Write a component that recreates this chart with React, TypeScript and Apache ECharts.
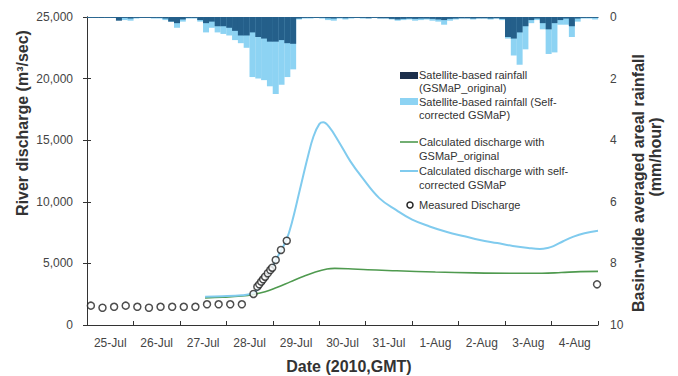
import React, { useEffect, useRef } from "react";
import * as echarts from "echarts";

// Day category labels (x axis)
const days = ["25-Jul", "26-Jul", "27-Jul", "28-Jul", "29-Jul", "30-Jul", "31-Jul", "1-Aug", "2-Aug", "3-Aug", "4-Aug"];

// 3-hourly basin rainfall (mm/hour), slot i centred on hour 3*i+1.5 from 25-Jul 00:00
const rainSelfCorrected = [
  0.03, 0.03, 0.02, 0.03, 0.03, 0.05, 0.1, 0.12,
  0.05, 0.03, 0.03, 0.05, 0.05, 0.1, 0.15, 0.35,
  0.15, 0.05, 0.05, 0.15, 0.5, 0.35, 0.5, 0.55,
  0.6, 0.75, 0.85, 1.0, 1.95, 2.0, 2.05, 2.25,
  2.5, 2.2, 1.95, 1.7, 0.08, 0.05, 0.05, 0.03,
  0.05, 0.1, 0.12, 0.05, 0.08, 0.05, 0.03, 0.05,
  0.05, 0.03, 0.05, 0.05, 0.08, 0.12, 0.1, 0.08,
  0.12, 0.1, 0.08, 0.12, 0.15, 0.25, 0.12, 0.08,
  0.05, 0.05, 0.08, 0.05, 0.05, 0.08, 0.05, 0.1,
  0.7, 1.25, 1.55, 1.05, 0.2, 0.1, 0.4, 1.2,
  1.15, 0.25, 0.25, 0.65, 0.15, 0.05, 0.05, 0.08,
];
const rainOriginal = [
  0.03, 0.03, 0.03, 0.03, 0.03, 0.12, 0.03, 0.05,
  0.03, 0.03, 0.03, 0.03, 0.03, 0.05, 0.15, 0.2,
  0.08, 0.03, 0.03, 0.1, 0.2, 0.15, 0.3, 0.3,
  0.35, 0.45, 0.6, 0.6, 0.5, 0.65, 0.7, 0.8,
  0.8, 0.75, 0.85, 0.87, 0.05, 0.03, 0.03, 0.03,
  0.03, 0.04, 0.05, 0.03, 0.04, 0.03, 0.03, 0.03,
  0.04, 0.03, 0.04, 0.04, 0.06, 0.08, 0.06, 0.05,
  0.06, 0.05, 0.05, 0.06, 0.08, 0.1, 0.06, 0.05,
  0.04, 0.04, 0.05, 0.04, 0.04, 0.05, 0.04, 0.06,
  0.65, 0.7, 0.5, 0.3, 0.1, 0.05, 0.2, 0.4,
  0.2, 0.1, 0.05, 0.3, 0.05, 0.03, 0.03, 0.03,
];

// Calculated discharge (hour since 25-Jul 00:00, m3/s)
const dischargeOriginal: [number, number][] = [
  [61, 2200], [70, 2250], [80, 2350], [86, 2480], [92, 2700], [98, 3050], [105, 3500],
  [112, 3950], [118, 4300], [124, 4550], [128, 4600], [135, 4570], [145, 4480], [160, 4400],
  [180, 4300], [200, 4230], [220, 4200], [235, 4200], [245, 4260], [255, 4330], [264, 4350],
];
const dischargeSelfCorrected: [number, number][] = [
  [61, 2300], [70, 2330], [80, 2420], [86, 2600], [90, 3200], [94, 4200], [98, 5400],
  [103, 6900], [106, 8400], [110, 11000], [114, 13600], [117, 15300], [120, 16300], [122, 16450],
  [125, 16100], [130, 14900], [136, 13300], [142, 12000], [151, 10300], [160, 9300], [168, 8550],
  [177, 8000], [186, 7550], [195, 7200], [203, 6900], [212, 6650], [220, 6420], [228, 6250],
  [234, 6170], [238, 6250], [241, 6400], [246, 6800], [251, 7150], [257, 7450], [264, 7650],
];

// Measured discharge
const measuredHours = [2, 8, 14, 20, 26, 32, 38, 44, 50, 56, 62, 68, 74, 80, 86, 88, 89, 90, 91, 92, 93.4, 94.7, 95.7, 97.5, 100.2, 103.2, 263.5];
const measuredValues = [1570, 1400, 1480, 1570, 1480, 1400, 1480, 1480, 1480, 1480, 1680, 1680, 1680, 1680, 2520, 3110, 3300, 3520, 3710, 3920, 4200, 4460, 4650, 5280, 6090, 6840, 3300];

const FONT = "'Liberation Sans', Arial, sans-serif";
const LIGHT = "#8dd3f3";
const DARK = "#245f8a";
const GREEN = "#4f9a4f";
const BLUE = "#80cbee";

export default function App() {
  const ref = useRef<HTMLDivElement>(null);
  useEffect(() => {
    if (!ref.current) return;
    const chart = echarts.init(ref.current, null, { renderer: "svg" });
    const legendText = (x: number, y: number, t: string) => ({
      type: "text", x, y,
      style: { text: t, font: `11px ${FONT}`, fill: "#333", verticalAlign: "middle", align: "left" },
    });
    chart.setOption({
      animation: false,
      backgroundColor: "#fff",
      grid: { left: 87, right: 80, top: 17, bottom: 51 },
      xAxis: [
        {
          type: "category", data: days, position: "bottom", boundaryGap: true,
          axisLine: { show: true, lineStyle: { color: "#333", width: 1 } },
          axisTick: { show: true, inside: true, length: 4, lineStyle: { color: "#333" } },
          axisLabel: { color: "#444", fontSize: 12, fontFamily: FONT, margin: 12 },
          splitLine: { show: false },
        },
        { type: "value", min: 0, max: 264, show: false },
        {
          type: "value", min: 0, max: 264, position: "top",
          axisLine: { show: true, lineStyle: { color: "#333", width: 1 } },
          axisTick: { show: false }, axisLabel: { show: false }, splitLine: { show: false },
        },
      ],
      yAxis: [
        {
          type: "value", min: 0, max: 25000, interval: 5000, position: "left",
          axisLine: { show: true, lineStyle: { color: "#333" } },
          axisTick: { show: true, inside: true, length: 4, lineStyle: { color: "#333" } },
          axisLabel: {
            color: "#444", fontSize: 12, fontFamily: FONT, margin: 14,
            formatter: (v: number) => v.toLocaleString("en-US"),
          },
          splitLine: { show: false },
        },
        {
          type: "value", min: 0, max: 10, interval: 2, inverse: true, position: "right",
          axisLine: { show: true, lineStyle: { color: "#333" } },
          axisTick: { show: true, inside: true, length: 4, lineStyle: { color: "#333" } },
          axisLabel: { color: "#444", fontSize: 12, fontFamily: FONT, margin: 12 },
          splitLine: { show: false },
        },
      ],
      series: [
        {
          name: "Satellite-based rainfall (Self-corrected GSMaP)", type: "bar",
          xAxisIndex: 1, yAxisIndex: 1, barWidth: 6, barGap: "-100%",
          data: rainSelfCorrected.map((v, i) => [i * 3 + 1.5, v]),
          itemStyle: { color: LIGHT },
        },
        {
          name: "Satellite-based rainfall (GSMaP_original)", type: "bar",
          xAxisIndex: 1, yAxisIndex: 1, barWidth: 6, barGap: "-100%",
          data: rainOriginal.map((v, i) => [i * 3 + 1.5, v]),
          itemStyle: { color: DARK },
        },
        {
          name: "Calculated discharge with GSMaP_original", type: "line",
          xAxisIndex: 1, yAxisIndex: 0, smooth: 0.4, showSymbol: false, symbol: "none",
          data: dischargeOriginal, lineStyle: { color: GREEN, width: 1.6 }, z: 3,
        },
        {
          name: "Calculated discharge with self-corrected GSMaP", type: "line",
          xAxisIndex: 1, yAxisIndex: 0, smooth: 0.4, showSymbol: false, symbol: "none",
          data: dischargeSelfCorrected, lineStyle: { color: BLUE, width: 2 }, z: 3,
        },
        {
          name: "Measured Discharge", type: "scatter",
          xAxisIndex: 1, yAxisIndex: 0, symbol: "circle", symbolSize: 7,
          data: measuredHours.map((h, i) => [h, measuredValues[i]]),
          itemStyle: { color: "#fff", borderColor: "#222", borderWidth: 1.5 }, z: 5,
        },
      ],
      graphic: [
        {
          type: "text", x: 22, y: 123, rotation: Math.PI / 2,
          style: { text: "River discharge (m³/sec)", font: `bold 16px ${FONT}`, fill: "#333", align: "center", verticalAlign: "middle" },
        },
        {
          type: "text", x: 638, y: 183, rotation: Math.PI / 2,
          style: { text: "Basin-wide averaged areal rainfall", font: `bold 16px ${FONT}`, fill: "#333", align: "center", verticalAlign: "middle" },
        },
        {
          type: "text", x: 655, y: 157, rotation: Math.PI / 2,
          style: { text: "(mm/hour)", font: `bold 16px ${FONT}`, fill: "#333", align: "center", verticalAlign: "middle" },
        },
        {
          type: "text", x: 349, y: 366,
          style: { text: "Date (2010,GMT)", font: `bold 16px ${FONT}`, fill: "#333", align: "center", verticalAlign: "middle" },
        },
        // legend
        { type: "rect", shape: { x: 400, y: 72, width: 18, height: 7 }, style: { fill: "#1c2f4b" } },
        legendText(419, 75, "Satellite-based rainfall"),
        legendText(419, 88, "(GSMaP_original)"),
        { type: "rect", shape: { x: 400, y: 98, width: 18, height: 7 }, style: { fill: LIGHT } },
        legendText(419, 102, "Satellite-based rainfall (Self-"),
        legendText(419, 115, "corrected GSMaP)"),
        { type: "line", shape: { x1: 400, y1: 142, x2: 418, y2: 142 }, style: { stroke: GREEN, lineWidth: 1.6 } },
        legendText(419, 142, "Calculated discharge with"),
        legendText(419, 156, "GSMaP_original"),
        { type: "line", shape: { x1: 400, y1: 171, x2: 418, y2: 171 }, style: { stroke: BLUE, lineWidth: 2 } },
        legendText(419, 171, "Calculated discharge with self-"),
        legendText(419, 185, "corrected GSMaP"),
        { type: "circle", shape: { cx: 410, cy: 205, r: 3 }, style: { fill: "#fff", stroke: "#222", lineWidth: 1.5 } },
        legendText(419, 205, "Measured Discharge"),
      ],
    });
    return () => chart.dispose();
  }, []);
  return <div ref={ref} style={{ position: "fixed", left: 0, top: 0, width: 678, height: 376 }} />;
}
